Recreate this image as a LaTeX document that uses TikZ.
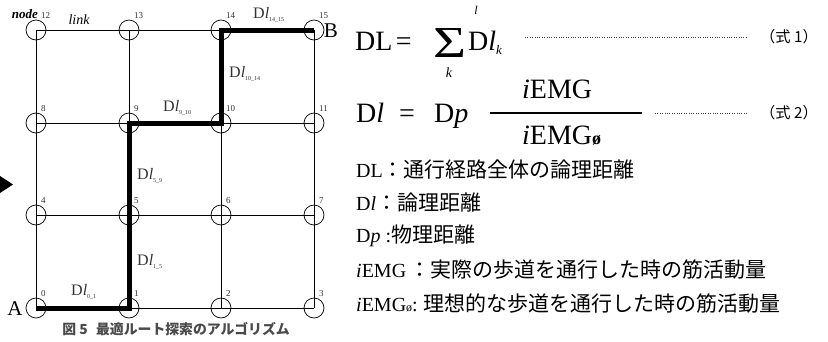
\documentclass[tikz,border=0pt]{standalone}
\usepackage{graphicx}
\usepackage{fontspec}
\setmainfont{Liberation Serif}
\newfontfamily\jp[Scale=1.05]{Noto Sans CJK JP}
\newcommand{\fsz}[1]{\fontsize{#1}{#1}\selectfont}
\newcommand{\dlsub}[1]{D\textit{l}\raisebox{-3pt}{\fsz{6}#1}}
\definecolor{labgray}{HTML}{333333}
\definecolor{capgray}{HTML}{4A4A4A}
\begin{document}
\begin{tikzpicture}[x=1pt,y=-1pt,
  gridline/.style={line width=0.7pt},
  route/.style={line width=5pt, line join=miter},
  vertex/.style={draw, circle, minimum size=20pt, inner sep=0pt, line width=0.7pt},
  num/.style={font=\fsz{9}, text=labgray, inner sep=0pt, anchor=south west},
  lab/.style={font=\fsz{16}, text=labgray, inner sep=0pt},
  txt/.style={inner sep=0pt},
  dots/.style={line width=0.6pt, dash pattern=on 1pt off 1.4pt, draw=black!75},
  defn/.style={inner sep=0pt, anchor=west, font=\fsz{20}},
]
\useasboundingbox (0,0) rectangle (828,341);
% grid coordinates
\foreach \r/\yy in {0/308,1/215,2/123,3/30}{
  \foreach \c/\xx in {0/36,1/129,2/221,3/314}{
    \pgfmathtruncatemacro{\id}{4*\r+\c}
    \coordinate (g\id) at (\xx,\yy);
  }
}
% grid lines
\foreach \a/\b in {0/3,4/7,8/11,12/15,0/12,1/13,2/14,3/15}{
  \draw[gridline] (g\a) -- (g\b);
}
% route
\draw[route] (g0) -- (g1) -- (g5) -- (g9) -- (g10) -- (g14) -- (g15);
% vertices and numbers
\foreach \i in {0,...,15}{
  \node[vertex] (c\i) at (g\i) {};
  \node[num] (n\i) at ([shift={(5pt,11pt)}]g\i) {\i};
}
% labels on grid
\node[txt, font=\bfseries\itshape\fsz{13}] (nodelab) at (25,14) {node};
\node[txt, font=\itshape\fsz{14}] (linklab) at (79,20) {link};
\node[lab, anchor=west] (d01) at (71,292) {\dlsub{0\_1}};
\node[lab, anchor=west] (d15) at (137,262) {\dlsub{1\_5}};
\node[lab, anchor=west] (d59) at (137,176) {\dlsub{5\_9}};
\node[lab, anchor=west] (d910) at (163,108) {\dlsub{9\_10}};
\node[lab, anchor=west] (d1014) at (229,74) {\dlsub{10\_14}};
\node[lab, anchor=west] (d1415) at (253,15) {\dlsub{14\_15}};
\node[txt, font=\fsz{21}] (A) at (15,309) {A};
\node[txt, font=\fsz{21}] (B) at (331,31) {B};
% arrow marker
\fill (0,176) -- (13,184.5) -- (0,193) -- cycle;
% caption
\node[txt, font=\jp\bfseries\fsz{13.2}, text=capgray] (cap) at (176,329) {図 5\hspace{0.6em}最適ルート探索のアルゴリズム};
% formula 1
\node[txt, anchor=base west, font=\fsz{28}] (f1a) at (355,50) {DL\hspace{0.12em}=};
\node[txt] (sig) at (450,42.5) {\resizebox{33pt}{29pt}{Σ}};
\node[txt, font=\itshape\fsz{12}] (sigup) at (476,10) {l};
\node[txt, font=\itshape\fsz{14}] (siglo) at (449,73) {k};
\node[txt, anchor=base west, font=\fsz{28}] (f1b) at (468,50) {D\textit{l}\raisebox{-4pt}{\fsz{13}\textit{k}}};
\coordinate (d1s) at (525,37);
\coordinate (d1e) at (748,37);
\draw[dots] (d1s) -- (d1e);
\node[txt, font=\jp\fsz{14.5}] (eq1) at (789,37) {（式 1）};
% formula 2
\node[txt, anchor=base west, font=\fsz{28}] (f2a) at (356,122.5) {D\textit{l}};
\node[txt, anchor=base west, font=\fsz{28}] (f2eq) at (399,122.5) {=};
\node[txt, anchor=base west, font=\fsz{28}] (f2b) at (434,122.5) {D\textit{p}};
\coordinate (fbs) at (490,113);
\coordinate (fbe) at (642,113);
\draw[line width=1.1pt] (fbs) -- (fbe);
\node[txt, anchor=base west, font=\fsz{28}] (numr) at (522,98) {\textit{i}EMG};
\node[txt, anchor=base west, font=\fsz{28}] (denr) at (522,144) {\textit{i}EMG\textbf{\fsz{18}ø}};
\coordinate (d2s) at (655,113);
\coordinate (d2e) at (748,113);
\draw[dots] (d2s) -- (d2e);
\node[txt, font=\jp\fsz{14.5}] (eq2) at (789,113) {（式 2）};
% definitions
\node[defn] (def1) at (356,170) {DL{\jp：通行経路全体の論理距離}};
\node[defn] (def2) at (356,203) {D\textit{l}{\jp：論理距離}};
\node[defn] (def3) at (356,236) {D\textit{p} :{\jp 物理距離}};
\node[defn] (def4) at (356,270) {\textit{i}EMG\hspace{0.15em}{\jp：実際の歩道を通行した時の筋活動量}};
\node[defn] (def5) at (356,304) {\textit{i}EMG{\fsz{12}ø}:\hspace{0.3em}{\jp 理想的な歩道を通行した時の筋活動量}};
\end{tikzpicture}
\end{document}
